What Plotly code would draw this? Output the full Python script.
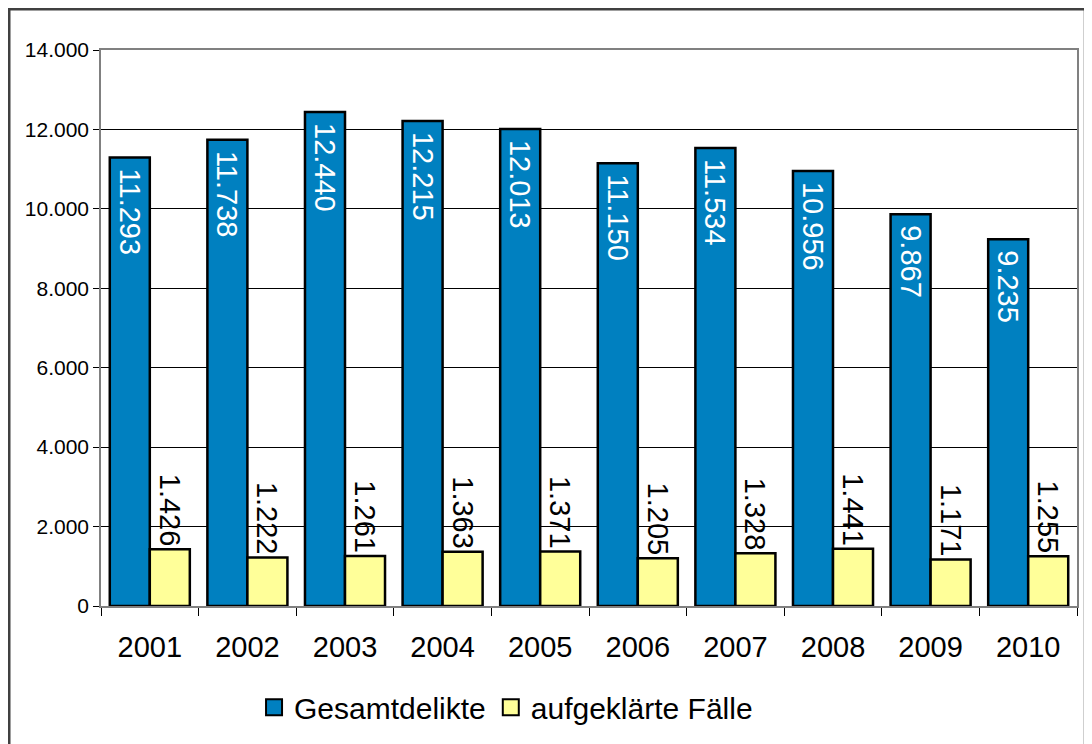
import plotly.graph_objects as go

# Daten
jahre = ['2001', '2002', '2003', '2004', '2005', '2006', '2007', '2008', '2009', '2010']
gesamtdelikte = [11293, 11738, 12440, 12215, 12013, 11150, 11534, 10956, 9867, 9235]
aufgeklaert = [1426, 1222, 1261, 1363, 1371, 1205, 1328, 1441, 1171, 1255]

BLAU = '#0080C0'
GELB = '#FFFF99'
FONT = 'Liberation Sans, Arial, sans-serif'

fig = go.Figure()

fig.add_trace(go.Bar(
    x=jahre, y=gesamtdelikte,
    name='Gesamtdelikte',
    marker=dict(color=BLAU, line=dict(color='black', width=2.5)),
    texttemplate='\u00a0%{y:,.0f}',  # kleiner Abstand zur Balkenoberkante
    textposition='inside',
    insidetextanchor='end',
    textangle=90,
    constraintext='none',
    textfont=dict(color='white', size=29, family=FONT),
    showlegend=False,
))
fig.add_trace(go.Bar(
    x=jahre, y=aufgeklaert,
    name='aufgeklärte Fälle',
    marker=dict(color=GELB, line=dict(color='black', width=2.5)),
    texttemplate='%{y:,.0f}',
    textposition='outside',
    textangle=90,
    constraintext='none',
    cliponaxis=False,
    textfont=dict(color='black', size=29, family=FONT),
    showlegend=False,
))

# Legende mit größeren Quadraten
for name, col in [('Gesamtdelikte', BLAU), ('aufgeklärte Fälle', GELB)]:
    fig.add_trace(go.Scatter(
        x=[None], y=[None], mode='markers', name=name,
        marker=dict(symbol='square', size=16, color=col,
                    line=dict(color='black', width=2)),
    ))

# äußerer Rahmen
fig.add_shape(type='rect', xref='paper', yref='paper',
              x0=-0.0940, x1=1.0082, y0=-0.3, y1=1.0735,
              line=dict(color='#404040', width=2.5), fillcolor='rgba(0,0,0,0)')

fig.update_layout(
    width=1084, height=736,
    margin=dict(l=93, r=15, t=42, b=137),
    paper_bgcolor='white',
    plot_bgcolor='white',
    separators=',.',
    barmode='group',
    bargap=0.18,
    bargroupgap=0,
    font=dict(family=FONT, color='black'),
    legend=dict(
        orientation='h', x=0.415, xanchor='center', y=-0.18, yanchor='middle',
        font=dict(size=30, family=FONT), itemsizing='trace',
        bgcolor='rgba(0,0,0,0)', itemwidth=30, tracegroupgap=0,
    ),
    xaxis=dict(
        type='category',
        showline=True, linecolor='#808080', linewidth=1.5, mirror=True,
        ticks='outside', tickson='boundaries', ticklen=8, tickcolor='black',
        ticklabelstandoff=14,
        tickfont=dict(size=29, family=FONT),
        showgrid=False,
    ),
    yaxis=dict(
        range=[0, 14000], dtick=2000, tickformat=',d',
        showline=True, linecolor='#808080', linewidth=1.5, mirror=True,
        ticks='outside', ticklen=6, tickcolor='black',
        gridcolor='black', gridwidth=1,
        zeroline=False,
        tickfont=dict(size=21, family=FONT),
    ),
)

fig.write_html('out.html')
